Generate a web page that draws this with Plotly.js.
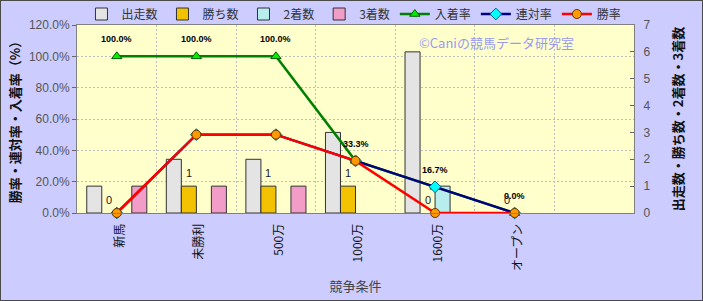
<!DOCTYPE html>
<html><head><meta charset="utf-8">
<script src="https://cdn.plot.ly/plotly-3.0.1.min.js"></script>
<style>body{margin:0;background:#fff}#c{width:703px;height:301px;box-sizing:border-box;border:1px solid #4a4a4a;background:#CCCCFF}</style>
</head><body><div id="c"></div>
<script>
const categories = ['新馬','未勝利','500万','1000万','1600万','オープン'];
const starts  = [1,2,2,3,6,0];
const wins    = [0,1,1,1,0,0];
const seconds = [0,0,0,0,1,0];
const thirds  = [1,1,1,0,0,0];
const placeRate  = [100,100,100,33.3,16.7,0];
const rentaiRate = [0,50,50,33.3,16.7,0];
const winRate    = [0,50,50,33.3,0,0];
const placeLabels = ['100.0%','100.0%','100.0%','33.3%','16.7%','0.0%'];
const winLabels = ['0','1','1','1','0','0'];

const F = 'Liberation Sans, Arial, Noto Sans CJK JP, sans-serif';
const JF = 'Noto Sans CJK JP, Liberation Sans, sans-serif';
const barLine = {color:'#333', width:1};
function bar(name, vals, color){
  return {type:'bar', name:name, x:categories, y:vals.map(v => v === 0 ? null : v), yaxis:'y',
    marker:{color:color, line:barLine}, hoverinfo:'skip'};
}
function line(name, vals, lc, sym, mc, mlc){
  return {type:'scatter', mode:'lines+markers', name:name, x:categories, y:vals, yaxis:'y2',
    line:{color:lc, width:2.5}, marker:{symbol:sym, size:9, color:mc, line:{color:mlc, width:1}},
    cliponaxis:false, hoverinfo:'skip'};
}
const data = [
  bar('出走数', starts, '#E4E4E4'),
  bar('勝ち数', wins, '#F2C200'),
  bar('2着数', seconds, '#B8EDEE'),
  bar('3着数', thirds, '#F29CC8'),
  line('入着率', placeRate, '#008000', 'triangle-up', '#00EE00', '#006000'),
  line('連対率', rentaiRate, '#000080', 'diamond', '#00FFFF', '#006080'),
  line('勝率', winRate, '#FF0000', 'circle', '#FF9900', '#663300')
];
const annotations = [];
categories.forEach((c,i)=>{
  annotations.push({x:c, y:placeRate[i], xref:'x', yref:'y2', yshift:17, showarrow:false,
    text:placeLabels[i], font:{family:F, size:9, weight:'bold', color:'#000'}});
  annotations.push({x:c, y:wins[i], xref:'x', yref:'y', xshift:-7.5, yshift:13, showarrow:false,
    text:winLabels[i], font:{family:F, size:11, color:'#222'}});
});
annotations.push({xref:'paper', yref:'paper', x:0.61, y:0.905, xanchor:'left', yanchor:'middle', showarrow:false,
  text:'©Caniの競馬データ研究室', font:{family:JF, size:13, color:'#9A9AF0'}});

const layout = {
  width:701, height:299,
  margin:{l:76, r:68, t:24, b:87, autoexpand:false},
  paper_bgcolor:'#CCCCFF', plot_bgcolor:'#FFFFCC',
  font:{family:F, color:'#444'},
  barmode:'group', bargap:0.245, bargroupgap:0,
  showlegend:true,
  legend:{orientation:'h', x:0.008, xanchor:'left', y:1.0585, yanchor:'middle',
    bgcolor:'rgba(0,0,0,0)', font:{family:JF, size:12, color:'#333'}, itemwidth:30, traceorder:'normal'},
  xaxis:{type:'category', range:[-0.5,6.5], tickson:'boundaries', showgrid:true, griddash:'2px,2px',
    gridcolor:'#BDBDBD', gridwidth:1, tickangle:-90, ticks:'', showline:true, mirror:true, linecolor:'#808080',
    ticklabelstandoff:5, ticklabelshift:3, automargin:false,
    tickfont:{family:JF, size:12, color:'#111'},
    title:{text:'競争条件', font:{family:JF, size:13, color:'#444'}, standoff:11}},
  yaxis:{side:'right', range:[0,7], dtick:1, showgrid:false, zeroline:false, showline:true, mirror:true,
    linecolor:'#808080', ticks:'inside', ticklen:4, tickcolor:'#666', ticklabelstandoff:6, automargin:false,
    tickfont:{family:F, size:12, color:'#555'},
    title:{text:'出走数・勝ち数・2着数・3着数', font:{family:JF, size:13, weight:'bold', color:'#111'}, standoff:24}},
  yaxis2:{overlaying:'y', side:'left', range:[0,120], dtick:20, ticksuffix:'%', tickformat:'.1f', automargin:false,
    showgrid:true, griddash:'2px,2px', gridcolor:'#BDBDBD', zeroline:false, showline:true, linecolor:'#808080',
    ticks:'outside', ticklen:4, tickcolor:'#666', tickfont:{family:F, size:12, color:'#555'},
    title:{text:'勝率・連対率・入着率（%）', font:{family:JF, size:13, weight:'bold', color:'#111'}, standoff:5}},
  annotations:annotations
};
Plotly.newPlot('c', data, layout, {displayModeBar:false, staticPlot:true});
</script></body></html>
